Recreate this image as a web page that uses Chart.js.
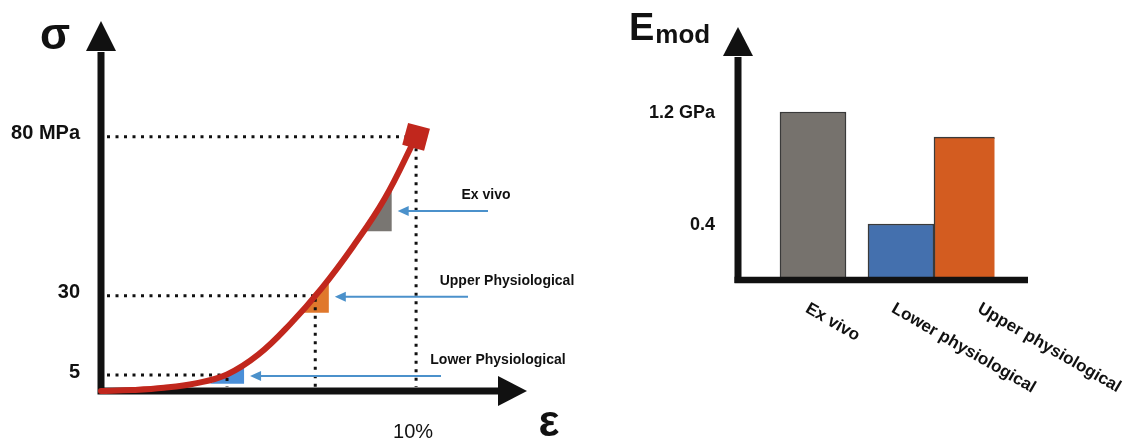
<!DOCTYPE html>
<html>
<head>
<meta charset="utf-8">
<script src="https://cdn.jsdelivr.net/npm/chart.js@4.4.1/dist/chart.umd.min.js"></script>
<style>
  html, body { margin: 0; padding: 0; background: #fff; }
  #wrap { position: relative; width: 1127px; height: 441px; overflow: hidden; }
  #curve { position: absolute; left: 0; top: 0; }
  #bars { position: absolute; left: 600px; top: 0; }
</style>
</head>
<body>
<div id="wrap">
  <canvas id="curve" width="600" height="441"></canvas>
  <canvas id="bars" width="527" height="441"></canvas>
</div>
<script>
// stress-strain curve (schematic), strain in %, stress in MPa
const strain = [0, 1, 2, 3, 4, 5, 6, 7, 8, 9, 10];
const stress = [0, 0.3, 1.0, 2.4, 5.2, 11.5, 21, 32.3, 45.5, 60.5, 80];

// dotted reference lines
const refStrain = [4.0, 6.8, 10];
const refStress = [5, 30, 80];
const stressTickLabels = ['5', '30', '80 MPa'];
const strainTick = 10;
const strainTickLabel = '10%';

// slope triangles on the curve
const zoneNames = ['Lower Physiological', 'Upper Physiological', 'Ex vivo'];
const zoneStrain = [4.0, 6.8, 8.8];
const zoneStress = [5, 30, 57];
const zoneRun = [1.08, 0.86, 0.85];
const zoneRise = [5.4, 10.7, 13.5];

// modulus bars, GPa
const barCategories = ['Ex vivo', 'Lower physiological', 'Upper physiological'];
const barGroups = ['ex vivo', 'physiological'];
const barGroupOf = [0, 1, 1];
const modulus = [1.2, 0.4, 1.02];
const modTicks = [0.4, 1.2];
const modTickLabels = ['0.4', '1.2 GPa'];

const FONT = '"Liberation Sans", Arial, Helvetica, sans-serif';
const zoneColors = ['#4a8fd8', '#e0782c', '#797672'];
const barColors = ['#76726d', '#4470ae', '#d35c20'];
const INK = '#111';

function arrowHead(ctx, x, y, dir, len, half) {
  ctx.beginPath();
  if (dir === 'up') {
    ctx.moveTo(x - half, y); ctx.lineTo(x + half, y); ctx.lineTo(x, y - len);
  } else {
    ctx.moveTo(x, y - half); ctx.lineTo(x, y + half); ctx.lineTo(x + len, y);
  }
  ctx.closePath();
  ctx.fill();
}

const curveDecor = {
  id: 'curveDecor',
  beforeDatasetsDraw(chart) {
    const { ctx, chartArea: a, scales: { x, y } } = chart;
    ctx.save();

    // slope triangles
    zoneStrain.forEach((s, i) => {
      const cx = x.getPixelForValue(s);
      const cy = y.getPixelForValue(zoneStress[i]);
      const hw = (x.getPixelForValue(zoneRun[i]) - x.getPixelForValue(0)) / 2;
      const hh = (y.getPixelForValue(0) - y.getPixelForValue(zoneRise[i])) / 2;
      ctx.fillStyle = zoneColors[i];
      ctx.beginPath();
      ctx.moveTo(cx - hw, cy + hh);
      ctx.lineTo(cx + hw, cy + hh);
      ctx.lineTo(cx + hw, cy - hh);
      ctx.closePath();
      ctx.fill();
    });

    // dotted lines
    ctx.strokeStyle = INK;
    ctx.lineWidth = 3;
    ctx.setLineDash([3, 5.5]);
    refStrain.forEach((s, i) => {
      const px = x.getPixelForValue(s);
      const py = y.getPixelForValue(refStress[i]);
      ctx.beginPath();
      ctx.moveTo(a.left + 6, py);
      ctx.lineTo(px, py);
      ctx.stroke();
      ctx.beginPath();
      ctx.moveTo(px, py + 3);
      ctx.lineTo(px, a.bottom - 4);
      ctx.stroke();
    });
    ctx.setLineDash([]);

    // axes with arrows
    ctx.strokeStyle = ctx.fillStyle = INK;
    ctx.lineWidth = 7;
    ctx.beginPath();
    ctx.moveTo(a.left, a.bottom + 3.5);
    ctx.lineTo(a.left, a.top + 1);
    ctx.moveTo(a.left - 3.5, a.bottom);
    ctx.lineTo(a.right + 1, a.bottom);
    ctx.stroke();
    arrowHead(ctx, a.left, a.top, 'up', 30, 15);
    arrowHead(ctx, a.right, a.bottom, 'right', 29, 15);

    // tick labels
    ctx.font = 'bold 20px ' + FONT;
    ctx.textAlign = 'right';
    ctx.textBaseline = 'middle';
    refStress.forEach((v, i) => {
      ctx.fillText(stressTickLabels[i], a.left - 21, y.getPixelForValue(v) - 3);
    });
    ctx.font = '20px ' + FONT;
    ctx.textAlign = 'center';
    ctx.fillText(strainTickLabel, x.getPixelForValue(strainTick) - 3, a.bottom + 41);

    // axis symbols
    ctx.font = 'bold 44px ' + FONT;
    ctx.fillText('σ', 55, 37);
    ctx.fillText('ε', 549, 424);
    ctx.restore();
  },
  afterDatasetsDraw(chart) {
    const { ctx, scales: { x, y } } = chart;
    const tailX = [441, 468, 488];
    const textX = [498, 507, 486];
    ctx.save();
    zoneNames.forEach((name, i) => {
      const right = x.getPixelForValue(zoneStrain[i] + zoneRun[i] / 2);
      const ay = y.getPixelForValue(zoneStress[i]) + 1;
      const tip = right + 6;
      ctx.strokeStyle = ctx.fillStyle = '#4b91cb';
      ctx.lineWidth = 2;
      ctx.beginPath();
      ctx.moveTo(tailX[i], ay);
      ctx.lineTo(tip + 8, ay);
      ctx.stroke();
      ctx.beginPath();
      ctx.moveTo(tip, ay);
      ctx.lineTo(tip + 11, ay - 5);
      ctx.lineTo(tip + 11, ay + 5);
      ctx.closePath();
      ctx.fill();
      ctx.fillStyle = INK;
      ctx.font = 'bold 14px ' + FONT;
      ctx.textAlign = 'center';
      ctx.textBaseline = 'middle';
      ctx.fillText(name, textX[i], ay - 16);
    });
    ctx.restore();
  }
};

new Chart(document.getElementById('curve'), {
  type: 'line',
  data: {
    datasets: [{
      data: strain.map((v, i) => ({ x: v, y: stress[i] })),
      borderColor: '#c1271d',
      borderWidth: 6,
      borderCapStyle: 'round',
      tension: 0.4,
      pointRadius: ctx => (ctx.dataIndex === strain.length - 1 ? 16 : 0),
      pointStyle: 'rect',
      pointRotation: 15,
      pointBackgroundColor: '#c1271d',
      pointBorderWidth: 0,
      clip: false
    }]
  },
  options: {
    responsive: false,
    animation: false,
    layout: { padding: { left: 101, right: 102, top: 51, bottom: 50 } },
    scales: {
      x: { type: 'linear', min: 0, max: 12.6, display: false },
      y: { type: 'linear', min: 0, max: 107, display: false }
    },
    plugins: { legend: { display: false }, tooltip: { enabled: false } }
  },
  plugins: [curveDecor]
});

const barDecor = {
  id: 'barDecor',
  afterDatasetsDraw(chart) {
    const { ctx, chartArea: a, scales: { y } } = chart;
    ctx.save();
    ctx.strokeStyle = ctx.fillStyle = INK;
    ctx.lineWidth = 7;
    const ax = a.left - 14.5;
    ctx.beginPath();
    ctx.moveTo(ax, a.bottom + 3);
    ctx.lineTo(ax, a.top + 1);
    ctx.stroke();
    ctx.lineWidth = 6.5;
    ctx.beginPath();
    ctx.moveTo(ax - 3.5, a.bottom);
    ctx.lineTo(a.right + 33.5, a.bottom);
    ctx.stroke();
    arrowHead(ctx, ax, a.top, 'up', 29, 15);

    ctx.font = 'bold 18px ' + FONT;
    ctx.textAlign = 'right';
    ctx.textBaseline = 'middle';
    modTicks.forEach((v, i) => ctx.fillText(modTickLabels[i], a.left - 37.5, y.getPixelForValue(v) + 1));

    // E_mod title
    ctx.textAlign = 'left';
    ctx.textBaseline = 'alphabetic';
    ctx.font = 'bold 38px ' + FONT;
    ctx.fillText('E', 29, 40);
    const ew = ctx.measureText('E').width;
    ctx.font = 'bold 26px ' + FONT;
    ctx.fillText('mod', 29 + ew + 1, 43);

    // rotated category labels
    const x0 = chart.getDatasetMeta(0).data[0].x;
    ctx.font = 'bold 17px ' + FONT;
    ctx.textBaseline = 'top';
    barCategories.forEach((name, i) => {
      ctx.save();
      ctx.translate(x0 - 2 + i * 86, a.bottom + 20);
      ctx.rotate(30 * Math.PI / 180);
      ctx.fillText(name, 0, 0);
      ctx.restore();
    });
    ctx.restore();
  }
};

new Chart(document.getElementById('bars'), {
  type: 'bar',
  data: {
    labels: barGroups,
    datasets: barCategories.map((name, i) => ({
      label: name,
      data: barGroups.map((g, gi) => (barGroupOf[i] === gi ? modulus[i] : null)),
      backgroundColor: barColors[i],
      borderColor: '#3a3a3a',
      borderWidth: 1.5,
      barThickness: 66,
      skipNull: true
    }))
  },
  options: {
    responsive: false,
    animation: false,
    layout: { padding: { left: 152.5, right: 132.5, top: 56, bottom: 161 } },
    scales: {
      x: { type: 'category', offset: true, display: false },
      y: { type: 'linear', min: 0, max: 1.6, display: false }
    },
    plugins: { legend: { display: false }, tooltip: { enabled: false } }
  },
  plugins: [barDecor]
});
</script>
</body>
</html>
